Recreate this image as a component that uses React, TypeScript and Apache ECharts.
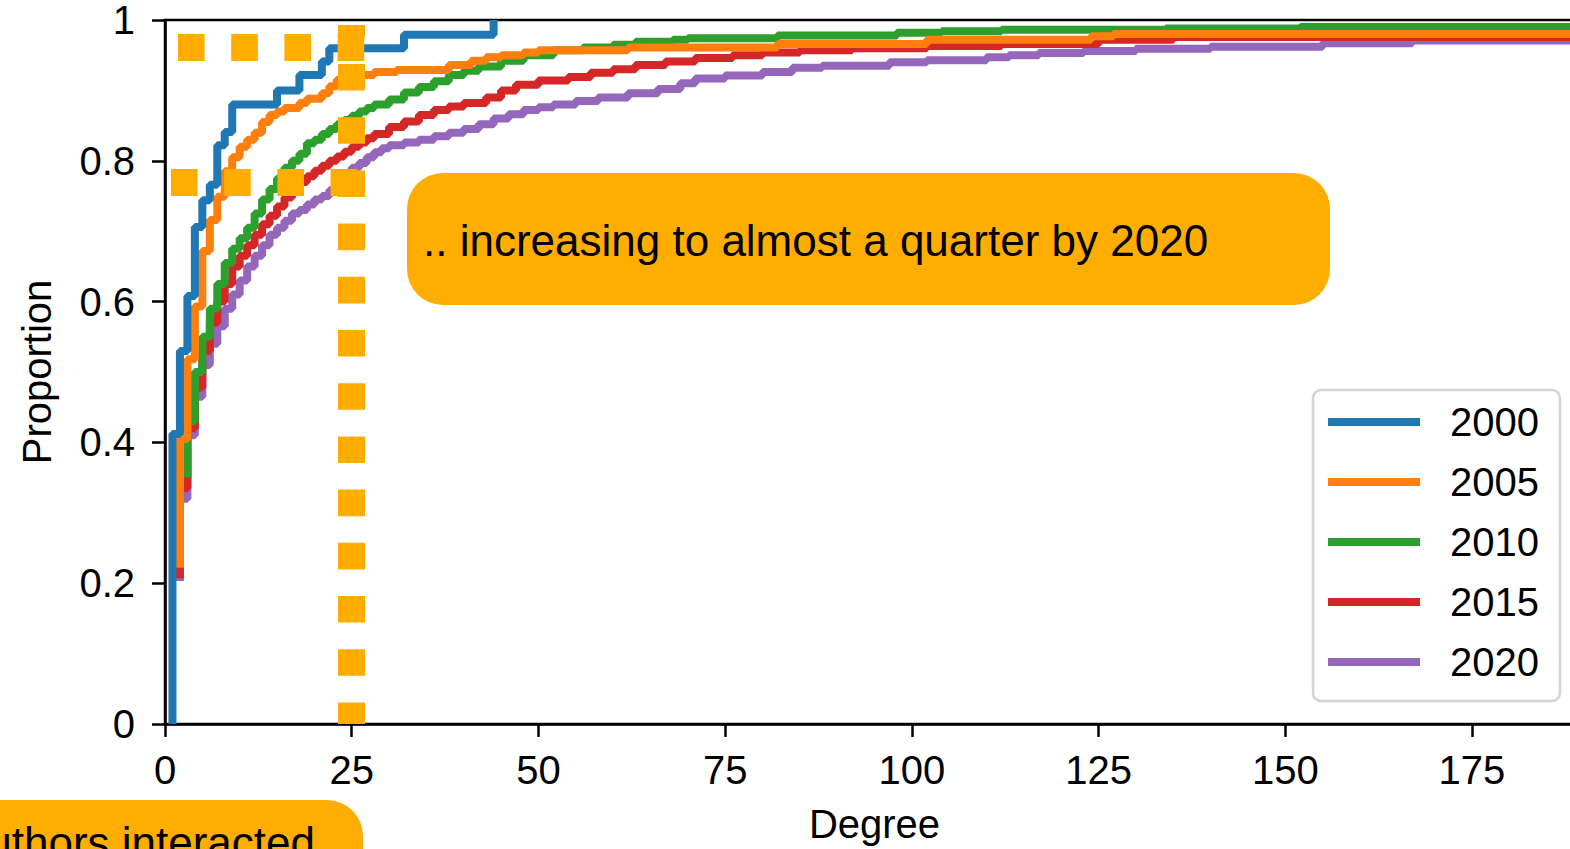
import React, { useEffect, useRef } from "react";
import * as echarts from "echarts";

const FONT = '"Liberation Sans", Arial, Helvetica, sans-serif';
const ACCENT = "#ffad00";

const YEARS = ["2000", "2005", "2010", "2015", "2020"];
const COLORS = ["#1f77b4", "#ff7f0e", "#2ca02c", "#d62728", "#9467bd"];

const DEG_2000 = [1, 1, 2, 3, 4, 5, 6, 7, 8, 9, 15, 18, 21, 22, 32, 44];
const P_2000 = [0, 0.412, 0.53, 0.608, 0.706, 0.744, 0.766, 0.822, 0.841, 0.88, 0.9, 0.922, 0.941, 0.96, 0.979, 1.0];

const DEG_2005 = [2, 2, 3, 4, 5, 6, 7, 8, 9, 10, 11, 12, 13, 14, 15, 16, 18, 19, 21, 22, 23, 26, 28, 31, 38, 41, 43, 45, 48, 50, 62, 82, 102, 124, 127, 190];
const P_2005 = [0.222, 0.405, 0.518, 0.593, 0.672, 0.716, 0.749, 0.785, 0.805, 0.82, 0.83, 0.84, 0.855, 0.865, 0.87, 0.875, 0.882, 0.888, 0.896, 0.906, 0.915, 0.922, 0.926, 0.929, 0.936, 0.942, 0.947, 0.95, 0.954, 0.957, 0.961, 0.966, 0.972, 0.977, 0.98, 0.98];

const DEG_2010 = [3, 3, 4, 5, 6, 7, 8, 9, 10, 11, 12, 13, 14, 15, 16, 17, 18, 19, 20, 21, 22, 23, 24, 25, 26, 27, 28, 30, 32, 34, 36, 38, 40, 42, 45, 48, 52, 56, 60, 63, 68, 70, 82, 98, 104, 112, 134, 152, 190];
const P_2010 = [0.35, 0.43, 0.5, 0.55, 0.59, 0.625, 0.655, 0.675, 0.69, 0.705, 0.725, 0.745, 0.76, 0.775, 0.79, 0.8, 0.81, 0.825, 0.83, 0.838, 0.845, 0.852, 0.858, 0.864, 0.87, 0.875, 0.88, 0.887, 0.897, 0.905, 0.913, 0.922, 0.928, 0.934, 0.942, 0.95, 0.957, 0.961, 0.965, 0.969, 0.972, 0.974, 0.978, 0.982, 0.984, 0.986, 0.988, 0.99, 0.99];

const DEG_2015 = [2, 2, 3, 4, 5, 6, 7, 8, 9, 10, 11, 12, 13, 14, 15, 16, 17, 18, 19, 20, 21, 22, 23, 24, 25, 26, 27, 28, 30, 32, 34, 36, 38, 40, 43, 45, 47, 50, 54, 57, 60, 63, 67, 71, 76, 80, 85, 92, 102, 112, 125, 135, 190];
const P_2015 = [0.207, 0.335, 0.42, 0.478, 0.53, 0.57, 0.6, 0.625, 0.65, 0.665, 0.68, 0.695, 0.71, 0.722, 0.735, 0.748, 0.76, 0.77, 0.778, 0.786, 0.793, 0.8, 0.806, 0.813, 0.82, 0.826, 0.832, 0.838, 0.848, 0.856, 0.865, 0.872, 0.877, 0.882, 0.89, 0.9, 0.908, 0.914, 0.919, 0.925, 0.93, 0.936, 0.941, 0.946, 0.95, 0.954, 0.957, 0.96, 0.963, 0.966, 0.972, 0.976, 0.976];

const DEG_2020 = [2, 2, 3, 4, 5, 6, 7, 8, 9, 10, 11, 12, 13, 14, 15, 16, 17, 18, 19, 20, 21, 22, 23, 24, 25, 26, 27, 28, 29, 30, 32, 34, 36, 38, 40, 42, 44, 46, 48, 50, 52, 55, 58, 62, 66, 69, 71, 75, 80, 84, 88, 97, 102, 110, 113, 117, 123, 130, 140, 155, 167, 190];
const P_2020 = [0.203, 0.32, 0.41, 0.465, 0.51, 0.54, 0.565, 0.59, 0.61, 0.63, 0.65, 0.665, 0.68, 0.695, 0.705, 0.715, 0.725, 0.73, 0.738, 0.745, 0.75, 0.758, 0.768, 0.78, 0.79, 0.797, 0.805, 0.812, 0.818, 0.822, 0.826, 0.83, 0.835, 0.84, 0.845, 0.852, 0.86, 0.866, 0.872, 0.876, 0.88, 0.885, 0.89, 0.896, 0.902, 0.91, 0.917, 0.921, 0.926, 0.932, 0.935, 0.94, 0.943, 0.947, 0.95, 0.953, 0.956, 0.959, 0.962, 0.967, 0.971, 0.971];

const SERIES_DEG = [DEG_2000, DEG_2005, DEG_2010, DEG_2015, DEG_2020];
const SERIES_P = [P_2000, P_2005, P_2010, P_2015, P_2020];

// annotation guide lines (data coordinates)
const GUIDE_X = 25;
const GUIDE_ROWS = [
  { from: 1.74, to: 26.8, y: 0.962 },
  { from: 0.8, to: 26.8, y: 0.77 },
];
const GUIDE_TOP = 0.993;

const NOTE_1 = ".. increasing to almost a quarter by 2020";
const NOTE_2 = "uthors interacted";

export default function App() {
  const ref = useRef<HTMLDivElement>(null);

  useEffect(() => {
    const chart = echarts.init(ref.current!, null, { renderer: "svg" });
    const dashStyle = {
      color: ACCENT,
      width: 27,
      type: [26.6, 26.6],
      cap: "butt",
      opacity: 1,
    };

    // draw 2020 first so 2000 ends on top
    const order = [4, 3, 2, 1, 0];
    const series: any[] = order.map((i) => ({
      name: YEARS[i],
      type: "line",
      step: "end",
      symbol: "none",
      clip: false,
      data: SERIES_DEG[i].map((d, k) => [d, SERIES_P[i][k]]),
      lineStyle: { color: COLORS[i], width: 8 },
      itemStyle: { color: COLORS[i] },
      z: 2,
    }));

    series[series.length - 1].markLine = {
      silent: true,
      symbol: ["none", "none"],
      label: { show: false },
      emphasis: { disabled: true },
      z: 5,
      data: [
        [
          { coord: [GUIDE_X, 0], lineStyle: { ...dashStyle, dashOffset: 5.3 } },
          { coord: [GUIDE_X, GUIDE_TOP] },
        ],
        ...GUIDE_ROWS.map((r) => [
          { coord: [r.from, r.y], lineStyle: dashStyle },
          { coord: [r.to, r.y] },
        ]),
      ],
      lineStyle: dashStyle,
    };

    chart.setOption({
      animation: false,
      backgroundColor: "#fff",
      textStyle: { fontFamily: FONT },
      grid: {
        left: 165,
        top: 20,
        bottom: 125,
        right: -14,
        outerBoundsMode: "none",
        containLabel: false,
        show: true,
        borderColor: "#000",
        borderWidth: 2.5,
        backgroundColor: "transparent",
      },
      legend: {
        data: YEARS,
        orient: "vertical",
        left: 1313,
        top: 390,
        icon: "rect",
        itemWidth: 92,
        itemHeight: 8,
        itemGap: 20,
        backgroundColor: "#fff",
        borderColor: "#d4d4d4",
        borderWidth: 2.5,
        borderRadius: 8,
        padding: [12, 21, 19, 15],
        textStyle: {
          fontSize: 40,
          color: "#000",
          fontFamily: FONT,
          lineHeight: 40,
          padding: [0, 0, 0, 25],
        },
      },
      xAxis: {
        type: "value",
        min: 0,
        max: 190,
        interval: 25,
        name: "Degree",
        nameLocation: "middle",
        nameGap: 80,
        nameTextStyle: { fontSize: 40, color: "#000", fontFamily: FONT },
        splitLine: { show: false },
        axisLine: { onZero: false, lineStyle: { color: "#000", width: 2.5 } },
        axisTick: { length: 13, lineStyle: { color: "#000", width: 2.5 } },
        axisLabel: {
          fontSize: 40,
          color: "#000",
          fontFamily: FONT,
          margin: 26,
          formatter: (v: number) => (v > 180 ? "" : String(v)),
        },
      },
      yAxis: {
        type: "value",
        min: 0,
        max: 1,
        interval: 0.2,
        name: "Proportion",
        nameLocation: "middle",
        nameGap: 108,
        nameTextStyle: { fontSize: 40, color: "#000", fontFamily: FONT },
        splitLine: { show: false },
        axisLine: { show: true, lineStyle: { color: "#000", width: 2.5 } },
        axisTick: { show: true, length: 13, lineStyle: { color: "#000", width: 2.5 } },
        axisLabel: { fontSize: 40, color: "#000", fontFamily: FONT, margin: 30 },
      },
      series,
      graphic: [
        {
          type: "group",
          z: 100,
          children: [
            {
              type: "rect",
              shape: { x: 407, y: 173, width: 923, height: 132, r: 36 },
              style: { fill: ACCENT },
            },
            {
              type: "text",
              x: 423,
              y: 240,
              style: {
                text: NOTE_1,
                fill: "#000",
                fontSize: 44,
                fontFamily: FONT,
                verticalAlign: "middle",
              },
            },
            {
              type: "rect",
              shape: { x: -60, y: 800, width: 423, height: 132, r: 36 },
              style: { fill: ACCENT },
            },
            {
              type: "text",
              x: 315,
              y: 842,
              style: {
                text: NOTE_2,
                fill: "#000",
                fontSize: 44,
                fontFamily: FONT,
                align: "right",
                verticalAlign: "middle",
              },
            },
          ],
        },
      ],
    });
    return () => chart.dispose();
  }, []);

  return (
    <div
      ref={ref}
      style={{ position: "fixed", left: 0, top: 0, width: 1570, height: 849, background: "#fff" }}
    />
  );
}
